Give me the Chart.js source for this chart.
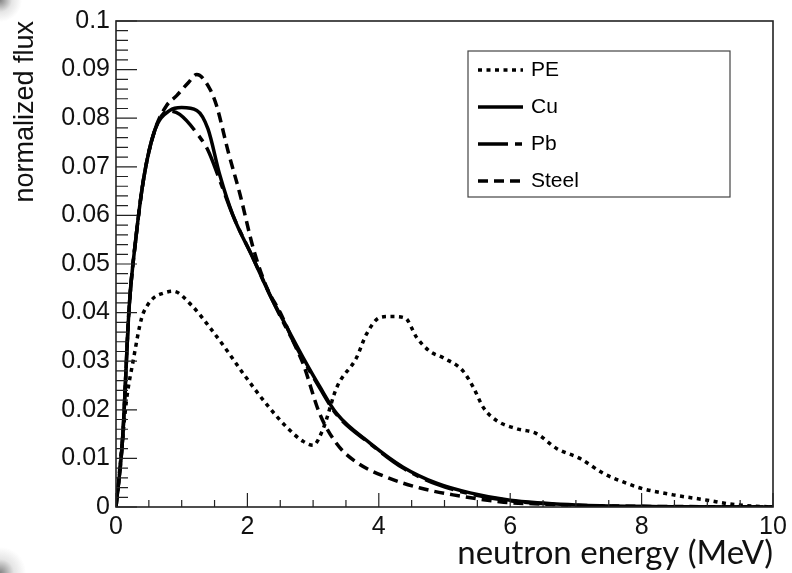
<!DOCTYPE html>
<html>
<head>
<meta charset="utf-8">
<title>neutron flux</title>
<script src="https://cdn.jsdelivr.net/npm/chart.js@4.4.0/dist/chart.umd.min.js"></script>
<style>
  html, body { margin: 0; padding: 0; background: #fff; }
  #wrap { position: relative; width: 792px; height: 573px; overflow: hidden; }
  .shade { position: absolute; width: 40px; height: 40px; pointer-events: none; }
  #tl { left: 0; top: 0; background: radial-gradient(circle at 0 0, rgba(110,110,110,0.85) 0, rgba(190,190,190,0.4) 12px, rgba(255,255,255,0) 22px); }
  #bl { left: 0; bottom: 0; background: radial-gradient(circle at 0 100%, rgba(110,110,110,0.85) 0, rgba(190,190,190,0.4) 14px, rgba(255,255,255,0) 26px); }
</style>
</head>
<body>
<div id="wrap">
  <canvas id="fluxChart" width="792" height="573"></canvas>
  <div class="shade" id="tl"></div>
  <div class="shade" id="bl"></div>
</div>
<script>
// energies (MeV) and normalized flux
var ePE = [0, 0.08, 0.16, 0.26, 0.39, 0.47, 0.57, 0.72, 0.87, 1.15, 1.43, 1.7, 1.94, 2.3, 2.6, 2.85, 3.0, 3.15, 3.36, 3.66, 3.81, 4.02, 4.2, 4.4, 4.58, 4.78, 4.98, 5.28, 5.44, 5.59, 5.79, 6.1, 6.4, 6.71, 7.06, 7.42, 7.77, 7.98, 8.48, 9.0, 9.35, 9.7, 10];
var fPE = [0, 0.011, 0.022, 0.030, 0.0389, 0.0413, 0.043, 0.044, 0.0444, 0.0415, 0.0369, 0.032, 0.0274, 0.021, 0.0164, 0.0135, 0.0127, 0.016, 0.0246, 0.0307, 0.0355, 0.039, 0.0392, 0.0389, 0.0348, 0.032, 0.0307, 0.028, 0.0246, 0.0205, 0.0178, 0.0161, 0.0151, 0.012, 0.010, 0.0069, 0.0049, 0.0039, 0.0025, 0.0014, 0.0006, 0.0002, 0];

var eCu = [0, 0.1, 0.2, 0.3, 0.42, 0.59, 0.82, 1.0, 1.23, 1.4, 1.58, 1.78, 2.09, 2.34, 2.6, 2.85, 3.1, 3.36, 3.87, 4.37, 4.88, 5.39, 6.0, 6.5, 7.0, 8.0, 9.0, 10];
var fCu = [0, 0.014, 0.041, 0.055, 0.0675, 0.0775, 0.0816, 0.0822, 0.0816, 0.0778, 0.0683, 0.060, 0.0511, 0.0437, 0.037, 0.0307, 0.0248, 0.0192, 0.0131, 0.0082, 0.0049, 0.0029, 0.0014, 0.0008, 0.0004, 0.0001, 0, 0];

var ePb = [0, 0.1, 0.2, 0.3, 0.42, 0.59, 0.8, 0.97, 1.28, 1.4, 1.55, 1.78, 2.09, 2.34, 2.6, 2.85, 3.1, 3.36, 3.87, 4.37, 4.88, 5.39, 6.0, 6.5, 7.0, 8.0, 9.0, 10];
var fPb = [0, 0.014, 0.041, 0.055, 0.0675, 0.0775, 0.0815, 0.0808, 0.076, 0.0734, 0.0683, 0.060, 0.0511, 0.0437, 0.0366, 0.0303, 0.0245, 0.019, 0.013, 0.008, 0.0047, 0.0027, 0.0013, 0.0007, 0.0003, 0.0001, 0, 0];

var eSteel = [0, 0.1, 0.2, 0.3, 0.42, 0.59, 0.77, 0.92, 1.1, 1.23, 1.43, 1.53, 1.71, 1.89, 2.09, 2.3, 2.5, 2.7, 2.85, 3.1, 3.36, 3.66, 4.12, 4.63, 5.13, 5.9, 6.5, 7.5, 8.5, 10];
var fSteel = [0, 0.014, 0.041, 0.055, 0.0675, 0.0775, 0.0826, 0.0846, 0.0873, 0.089, 0.086, 0.0826, 0.073, 0.0642, 0.0532, 0.045, 0.040, 0.034, 0.0294, 0.0192, 0.013, 0.0092, 0.0061, 0.0039, 0.0025, 0.001, 0.0006, 0.0002, 0.0001, 0];

var seriesNames = ['PE', 'Cu', 'Pb', 'Steel'];
var xTicks = [0, 2, 4, 6, 8, 10];
var yTicks = [0, 0.01, 0.02, 0.03, 0.04, 0.05, 0.06, 0.07, 0.08, 0.09, 0.1];

function pts(xs, ys) {
    var out = [];
    for (var i = 0; i < xs.length; i++) out.push({x: xs[i], y: ys[i]});
    return out;
}

function mkSet(name, xs, ys, dash) {
    return {
        label: name,
        data: pts(xs, ys),
        borderColor: '#000',
        backgroundColor: 'transparent',
        borderWidth: 3.5,
        borderDash: dash,
        pointRadius: 0,
        fill: false,
        cubicInterpolationMode: 'monotone'
    };
}

// ROOT style frame, inside ticks and the boxed legend
var rootFrame = {
    id: 'rootFrame',
    afterDatasetsDraw: function(chart) {
        var ctx = chart.ctx, a = chart.chartArea;
        var xs = chart.scales.x, ys = chart.scales.y;
        ctx.save();
        ctx.strokeStyle = '#222';
        ctx.lineWidth = 1.2;
        ctx.beginPath();
        for (var i = 0; i <= 20; i++) {
            var px = xs.getPixelForValue(i * 0.5);
            var len = (i % 4 === 0) ? 14 : 7;
            ctx.moveTo(px, a.bottom);
            ctx.lineTo(px, a.bottom - len);
        }
        for (var j = 0; j <= 50; j++) {
            var py = ys.getPixelForValue(j * 0.002);
            var l2 = (j % 5 === 0) ? 21 : 12;
            ctx.moveTo(a.left, py);
            ctx.lineTo(a.left + l2, py);
        }
        ctx.stroke();
        ctx.lineWidth = 1.6;
        ctx.strokeRect(a.left, a.top, a.right - a.left, a.bottom - a.top);

        // legend box
        ctx.lineWidth = 1.2;
        ctx.strokeStyle = '#444';
        ctx.strokeRect(468, 51, 262, 146);
        var rows = [70, 107, 144, 181];
        ctx.font = '21px "Liberation Sans", Arial, sans-serif';
        ctx.fillStyle = '#000';
        ctx.textBaseline = 'middle';
        chart.data.datasets.forEach(function(ds, k) {
            ctx.save();
            ctx.strokeStyle = '#000';
            ctx.lineWidth = ds.borderWidth;
            ctx.setLineDash(ds.borderDash || []);
            ctx.beginPath();
            ctx.moveTo(478, rows[k]);
            ctx.lineTo(523, rows[k]);
            ctx.stroke();
            ctx.restore();
            ctx.fillText(ds.label, 531, rows[k]);
        });
        ctx.restore();
    }
};

var tickFont = { family: '"Liberation Sans", Arial, sans-serif', size: 25 };

var chart = new Chart(document.getElementById('fluxChart'), {
    type: 'line',
    data: {
        datasets: [
            mkSet(seriesNames[0], ePE, fPE, [4, 4.5]),
            mkSet(seriesNames[1], eCu, fCu, []),
            mkSet(seriesNames[2], ePb, fPb, [30, 7, 7, 7]),
            mkSet(seriesNames[3], eSteel, fSteel, [10, 6])
        ]
    },
    options: {
        responsive: false,
        animation: false,
        layout: { padding: { top: 19, right: 19, left: 0, bottom: 0 } },
        plugins: { legend: { display: false }, tooltip: { enabled: false } },
        scales: {
            x: {
                type: 'linear',
                min: 0,
                max: 10,
                afterBuildTicks: function(s) { s.ticks = xTicks.map(function(v) { return {value: v}; }); },
                afterFit: function(s) { s.height = 66; },
                grid: { display: false, drawTicks: false },
                border: { display: false },
                ticks: { color: '#111', font: tickFont, padding: 5, maxRotation: 0 },
                title: {
                    display: true,
                    text: 'neutron energy (MeV)',
                    align: 'end',
                    color: '#111',
                    font: { family: 'Lato, "Open Sans", sans-serif', size: 33 },
                    padding: { top: 0, bottom: 0 }
                }
            },
            y: {
                min: 0,
                max: 0.1,
                afterBuildTicks: function(s) { s.ticks = yTicks.map(function(v) { return {value: v}; }); },
                afterFit: function(s) { s.width = 116; },
                grid: { display: false, drawTicks: false },
                border: { display: false },
                ticks: {
                    color: '#111',
                    font: tickFont,
                    padding: 6,
                    callback: function(v) { return String(Number(v.toFixed(3))); }
                },
                title: {
                    display: true,
                    text: 'normalized flux',
                    align: 'end',
                    color: '#111',
                    font: { family: '"Liberation Sans", Arial, sans-serif', size: 27 },
                    padding: { top: 9, bottom: 0 }
                }
            }
        }
    },
    plugins: [rootFrame]
});
</script>
</body>
</html>
